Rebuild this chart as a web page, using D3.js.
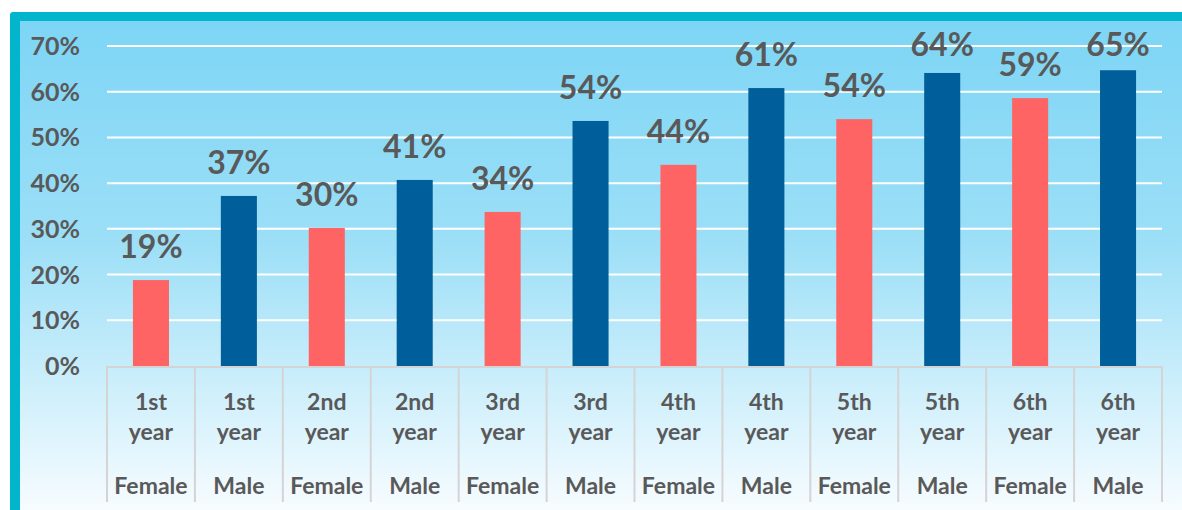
<!DOCTYPE html>
<html>
<head>
<meta charset="utf-8">
<script src="https://cdn.jsdelivr.net/npm/d3@7"></script>
<style>
  body { margin: 0; background: #fff; }
  text { font-family: Lato, "Open Sans", sans-serif; font-weight: bold; fill: #595959; }
</style>
</head>
<body>
<div id="chart"></div>
<script>
// chart values
var years = ["1st", "1st", "2nd", "2nd", "3rd", "3rd", "4th", "4th", "5th", "5th", "6th", "6th"];
var genders = ["Female", "Male", "Female", "Male", "Female", "Male", "Female", "Male", "Female", "Male", "Female", "Male"];
var values = [0.188, 0.372, 0.302, 0.407, 0.337, 0.536, 0.44, 0.608, 0.54, 0.641, 0.586, 0.647];
var yTicks = [0, 0.1, 0.2, 0.3, 0.4, 0.5, 0.6, 0.7];

var W = 1182, H = 510;
var colors = {Female: "#ff6464", Male: "#005f9a"};

var svg = d3.select("#chart").append("svg")
    .attr("width", W)
    .attr("height", H);

var defs = svg.append("defs");
var grad = defs.append("linearGradient")
    .attr("id", "bg")
    .attr("x1", 0).attr("y1", 0).attr("x2", 0).attr("y2", 1);
grad.append("stop").attr("offset", "0%").attr("stop-color", "#7dd5f5");
grad.append("stop").attr("offset", "45%").attr("stop-color", "#9cdff7");
grad.append("stop").attr("offset", "100%").attr("stop-color", "#f7fcff");

// frame
svg.append("rect")
    .attr("x", 10).attr("y", 12)
    .attr("width", W).attr("height", H)
    .attr("rx", 3)
    .attr("fill", "#00b5cc");
svg.append("rect")
    .attr("x", 20).attr("y", 21)
    .attr("width", W - 20).attr("height", H - 21)
    .attr("fill", "url(#bg)");

var plotL = 107, plotR = 1162, plotT = 46, base = 366;

var idx = d3.range(values.length);
var x = d3.scaleBand()
    .domain(idx)
    .range([plotL, plotR])
    .paddingInner(0.59)
    .paddingOuter(0.295);
var xb = d3.scaleBand().domain(idx).range([plotL, plotR]);

var y = d3.scaleLinear()
    .domain([0, 0.7])
    .range([base, plotT]);

// gridlines
svg.append("g").selectAll("line")
    .data(yTicks.filter(function(d){ return d > 0; }))
  .enter().append("line")
    .attr("x1", plotL).attr("x2", plotR)
    .attr("y1", function(d){ return y(d); })
    .attr("y2", function(d){ return y(d); })
    .attr("stroke", "#ffffff")
    .attr("stroke-width", 2);

// y axis labels
svg.append("g").selectAll("text")
    .data(yTicks)
  .enter().append("text")
    .attr("x", 80)
    .attr("y", function(d){ return y(d) + 9; })
    .attr("text-anchor", "end")
    .style("font-size", "25px")
    .text(d3.format(".0%"));

// bars
svg.append("g").selectAll("rect")
    .data(idx)
  .enter().append("rect")
    .attr("x", function(i){ return x(i); })
    .attr("width", x.bandwidth())
    .attr("y", function(i){ return y(values[i]); })
    .attr("height", function(i){ return base - y(values[i]); })
    .attr("fill", function(i){ return colors[genders[i]]; });

// value labels (kept inside the frame near the top)
svg.append("g").selectAll("text")
    .data(idx)
  .enter().append("text")
    .attr("x", function(i){ return x(i) + x.bandwidth() / 2; })
    .attr("y", function(i){ return Math.max(y(values[i]) - 22, 56); })
    .attr("text-anchor", "middle")
    .style("font-size", "32px")
    .text(function(i){ return d3.format(".0%")(values[i]); });

// category axis
var axis = svg.append("g");
axis.append("line")
    .attr("x1", plotL).attr("x2", plotR)
    .attr("y1", base + 1).attr("y2", base + 1)
    .attr("stroke", "#d4d4d4").attr("stroke-width", 2);
axis.selectAll("line.div")
    .data(idx.concat([values.length]))
  .enter().append("line")
    .attr("class", "div")
    .attr("x1", function(i){ return i < values.length ? xb(i) : plotR; })
    .attr("x2", function(i){ return i < values.length ? xb(i) : plotR; })
    .attr("y1", base).attr("y2", 502)
    .attr("stroke", "#d4d4d4").attr("stroke-width", 2);

var cats = axis.selectAll("g.cat")
    .data(idx)
  .enter().append("g")
    .attr("class", "cat")
    .attr("transform", function(i){ return "translate(" + (xb(i) + xb.bandwidth() / 2) + ",0)"; });
cats.append("text")
    .attr("y", 410).attr("text-anchor", "middle").style("font-size", "23px")
    .text(function(i){ return years[i]; });
cats.append("text")
    .attr("y", 440).attr("text-anchor", "middle").style("font-size", "23px")
    .text("year");
cats.append("text")
    .attr("y", 494).attr("text-anchor", "middle").style("font-size", "23px")
    .text(function(i){ return genders[i]; });
</script>
</body>
</html>
